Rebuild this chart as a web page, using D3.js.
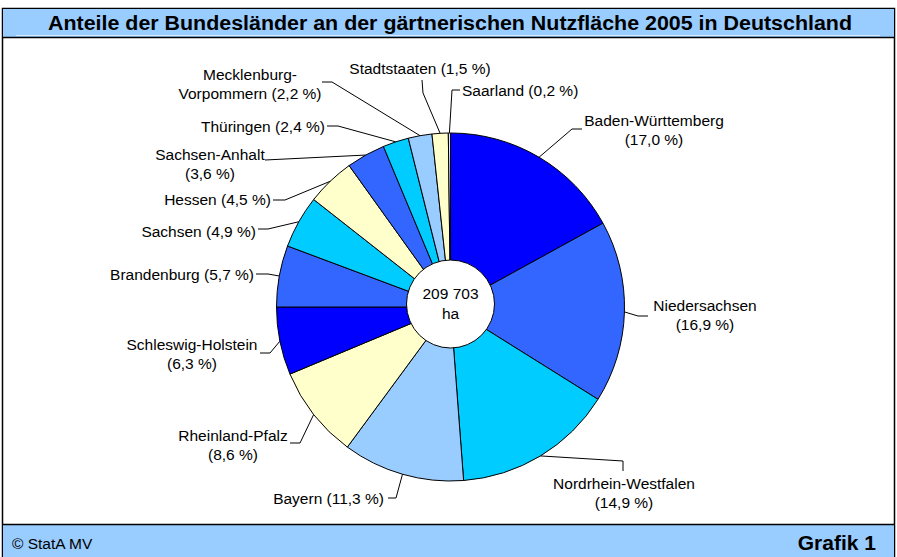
<!DOCTYPE html>
<html>
<head>
<meta charset="utf-8">
<script src="https://cdn.jsdelivr.net/npm/d3@7"></script>
<style>
  body { margin: 0; background: #fff; }
  text { font-family: "Liberation Sans", Arial, sans-serif; fill: #000; }
</style>
</head>
<body>
<div id="chart"></div>
<script>
// data
const states = ["Baden-Württemberg", "Niedersachsen", "Nordrhein-Westfalen", "Bayern",
  "Rheinland-Pfalz", "Schleswig-Holstein", "Brandenburg", "Sachsen", "Hessen",
  "Sachsen-Anhalt", "Thüringen", "Mecklenburg-Vorpommern", "Stadtstaaten", "Saarland"];
const shares = [17.0, 16.9, 14.9, 11.3, 8.6, 6.3, 5.7, 4.9, 4.5, 3.6, 2.4, 2.2, 1.5, 0.2];
const labelLines = [
  ["Baden-Württemberg", "(17,0 %)"],
  ["Niedersachsen", "(16,9 %)"],
  ["Nordrhein-Westfalen", "(14,9 %)"],
  ["Bayern (11,3 %)"],
  ["Rheinland-Pfalz", "(8,6 %)"],
  ["Schleswig-Holstein", "(6,3 %)"],
  ["Brandenburg (5,7 %)"],
  ["Sachsen (4,9 %)"],
  ["Hessen (4,5 %)"],
  ["Sachsen-Anhalt", "(3,6 %)"],
  ["Thüringen (2,4 %)"],
  ["Mecklenburg-", "Vorpommern (2,2 %)"],
  ["Stadtstaaten (1,5 %)"],
  ["Saarland (0,2 %)"]
];
const totalLines = ["209 703", "ha"];
const title = "Anteile der Bundesländer an der gärtnerischen Nutzfläche 2005 in Deutschland";

// styles / layout
const colors = ["#0000FF", "#3366FF", "#00CCFF", "#99CCFF", "#FFFFCC", "#0000FF", "#3366FF",
  "#00CCFF", "#FFFFCC", "#3366FF", "#00CCFF", "#99CCFF", "#FFFFCC", "#E8E8E8"];
// label anchor (text x, first line y, anchor) and leader elbow/end points
const labelLayout = [
  {x: 654, y: 126, anchor: "middle", pts: [[572, 129], [582, 129]]},
  {x: 705, y: 311, anchor: "middle", pts: [[638, 316], [648, 316]]},
  {x: 624, y: 489, anchor: "middle", pts: [[623, 461], [623, 471]]},
  {x: 384, y: 504, anchor: "end", pts: [[396, 498], [388, 498]]},
  {x: 233, y: 441, anchor: "middle", pts: [[300, 443], [290, 443]]},
  {x: 192, y: 350, anchor: "middle", pts: [[270, 353], [260, 353]]},
  {x: 254, y: 280, anchor: "end", pts: [[268, 274], [256, 274]]},
  {x: 256, y: 237, anchor: "end", pts: [[268, 229], [258, 229]]},
  {x: 271, y: 205, anchor: "end", pts: [[285, 200], [273, 200]]},
  {x: 210, y: 160, anchor: "middle", pts: [[265, 160]]},
  {x: 325, y: 132, anchor: "end", pts: [[338, 126], [327, 126]]},
  {x: 250, y: 80, anchor: "middle", pts: [[332, 82], [322, 82]]},
  {x: 420, y: 74, anchor: "middle", pts: [[423, 93], [422, 80]]},
  {x: 462, y: 96, anchor: "start", pts: [[452, 90], [460, 90]]}
];

const W = 897, H = 557;
const cx = 450.5, cy = 307, R = 174, holeR = 44;

const svg = d3.select("#chart").append("svg")
  .attr("width", W).attr("height", H);

// frame, header and footer
svg.append("rect").attr("x", 2.5).attr("y", 8.5).attr("width", 892).attr("height", 560)
  .attr("fill", "#fff").attr("stroke", "#000").attr("stroke-width", 1.5);
svg.append("rect").attr("x", 3).attr("y", 9).attr("width", 891).attr("height", 28)
  .attr("fill", "#99CCFF");
svg.append("line").attr("x1", 16).attr("x2", 880).attr("y1", 35.5).attr("y2", 35.5)
  .attr("stroke", "#D6EBFF").attr("stroke-width", 1);
svg.append("line").attr("x1", 2).attr("x2", 895).attr("y1", 37.5).attr("y2", 37.5)
  .attr("stroke", "#000").attr("stroke-width", 1.5);
svg.append("rect").attr("x", 3).attr("y", 525).attr("width", 891).attr("height", 40)
  .attr("fill", "#99CCFF");
svg.append("line").attr("x1", 2).attr("x2", 895).attr("y1", 524.5).attr("y2", 524.5)
  .attr("stroke", "#000").attr("stroke-width", 1.5);

svg.append("text").attr("x", 48).attr("y", 30)
  .attr("font-weight", "bold").attr("font-size", 20)
  .attr("textLength", 804).attr("lengthAdjust", "spacingAndGlyphs")
  .text(title);
svg.append("text").attr("x", 12).attr("y", 549).attr("font-size", 15.5).text("© StatA MV");
svg.append("text").attr("x", 876).attr("y", 550).attr("text-anchor", "end")
  .attr("font-weight", "bold").attr("font-size", 21).text("Grafik 1");

// pie
const data = states.map((s, i) => ({name: s, value: shares[i], i}));
const pie = d3.pie().value(d => d.value).sort(null);
const arcs = pie(data);
const arc = d3.arc().innerRadius(0).outerRadius(R);

const g = svg.append("g").attr("transform", `translate(${cx},${cy})`);
g.selectAll("path.slice")
  .data(arcs)
  .join("path")
  .attr("class", "slice")
  .attr("d", arc)
  .attr("fill", d => colors[d.data.i])
  .attr("stroke", "#000")
  .attr("stroke-width", 1);

// hole
g.append("circle").attr("cy", -3).attr("r", holeR)
  .attr("fill", "#fff").attr("stroke", "#000").attr("stroke-width", 1);
g.selectAll("text.total")
  .data(totalLines)
  .join("text")
  .attr("class", "total")
  .attr("text-anchor", "middle")
  .attr("font-size", 15.5)
  .attr("y", (d, i) => -8 + i * 20)
  .text(d => d);

// leader lines: from slice edge at mid angle to the label
const edgeArc = d3.arc().innerRadius(R).outerRadius(R);
svg.selectAll("path.leader")
  .data(arcs)
  .join("path")
  .attr("class", "leader")
  .attr("fill", "none")
  .attr("stroke", "#000")
  .attr("stroke-width", 1)
  .attr("d", d => {
    const c = edgeArc.centroid(d);
    const start = [cx + c[0], cy + c[1]];
    return d3.line()([start, ...labelLayout[d.data.i].pts]);
  });

// labels
const lbl = svg.selectAll("text.label")
  .data(arcs)
  .join("text")
  .attr("class", "label")
  .attr("font-size", 15.5)
  .attr("text-anchor", d => labelLayout[d.data.i].anchor)
  .attr("x", d => labelLayout[d.data.i].x)
  .attr("y", d => labelLayout[d.data.i].y);
lbl.selectAll("tspan")
  .data(d => labelLines[d.data.i].map(t => ({t, x: labelLayout[d.data.i].x})))
  .join("tspan")
  .attr("x", d => d.x)
  .attr("dy", (d, i) => i === 0 ? 0 : 19)
  .text(d => d.t);
</script>
</body>
</html>
